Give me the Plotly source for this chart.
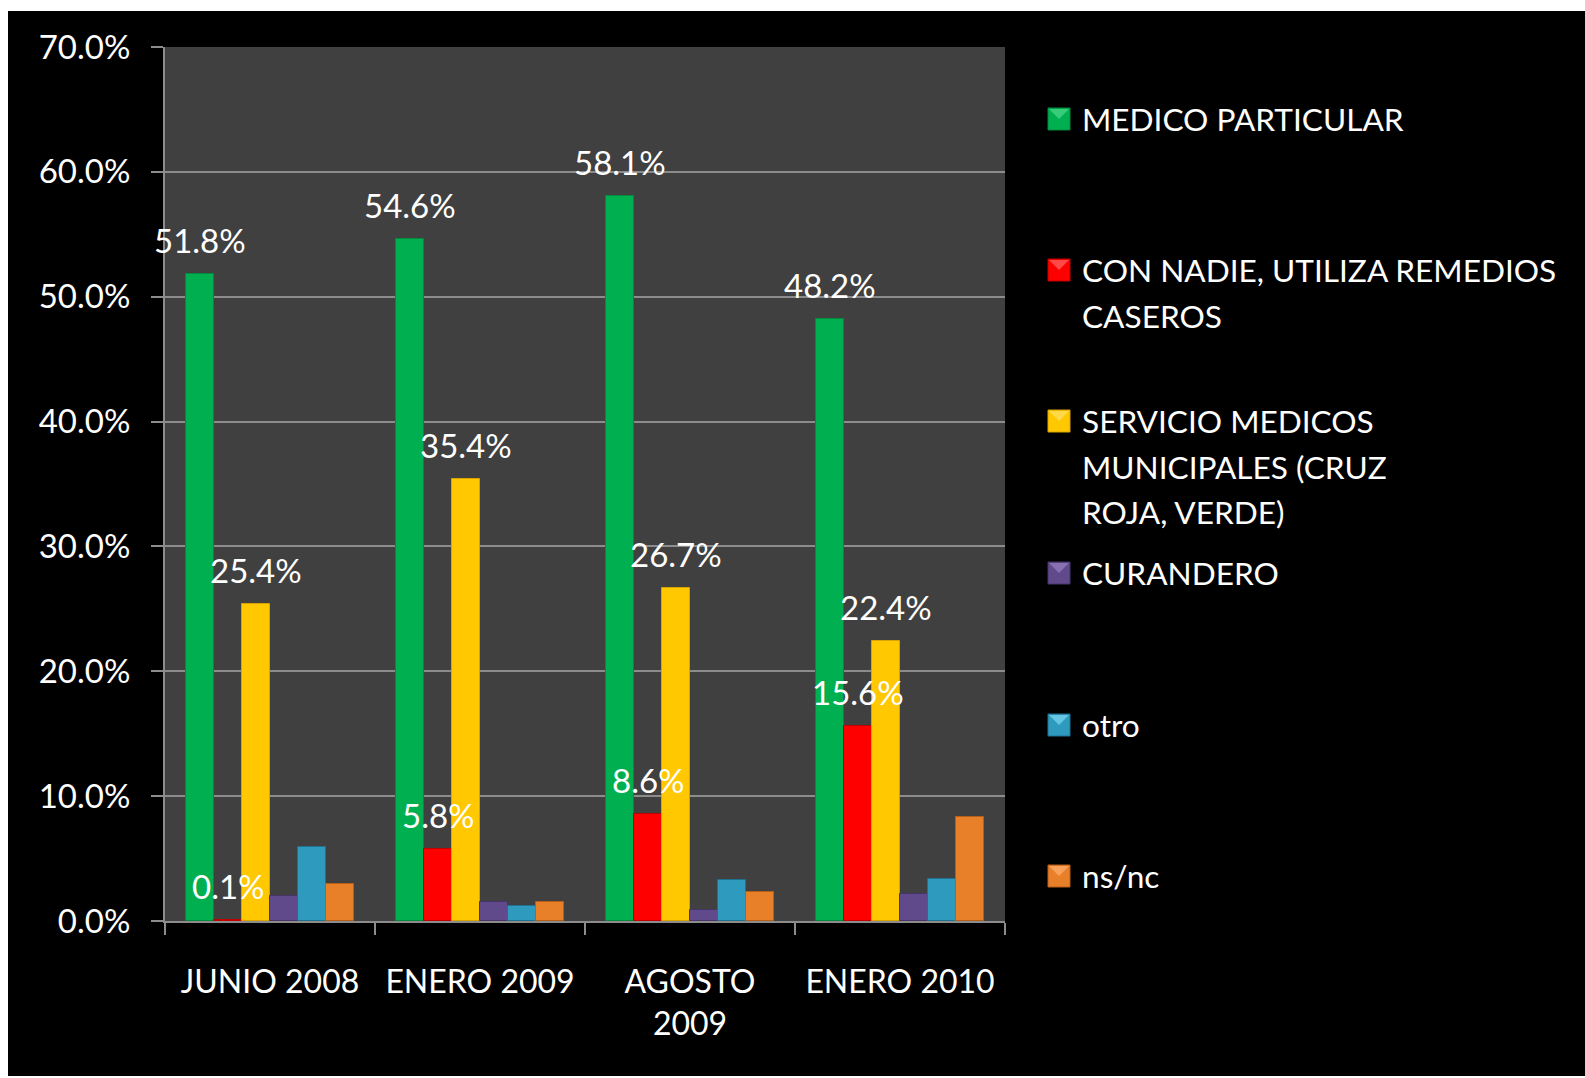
import plotly.graph_objects as go

# Survey periods (x categories)
periods = ["JUNIO 2008", "ENERO 2009", "AGOSTO<br>2009", "ENERO 2010"]

# Where people go when they get sick, % of answers per period
series_names = [
    "MEDICO PARTICULAR",
    "CON NADIE, UTILIZA REMEDIOS<br>CASEROS",
    "SERVICIO MEDICOS<br>MUNICIPALES (CRUZ<br>ROJA, VERDE)",
    "CURANDERO",
    "otro",
    "ns/nc",
]
medico_particular = [51.8, 54.6, 58.1, 48.2]
con_nadie = [0.1, 5.8, 8.6, 15.6]
servicio_municipal = [25.4, 35.4, 26.7, 22.4]
curandero = [2.0, 1.5, 0.9, 2.2]
otro = [5.9, 1.2, 3.3, 3.4]
ns_nc = [3.0, 1.5, 2.3, 8.3]

# Only these series carry value labels
labelled = [True, True, True, False, False, False]

y_ticks = [0, 10, 20, 30, 40, 50, 60, 70]

series_values = [medico_particular, con_nadie, servicio_municipal, curandero, otro, ns_nc]
colors = ["#00B050", "#FF0000", "#FFC800", "#604A8C", "#2E9BBE", "#E8802A"]
edges = ["#008a3e", "#c00000", "#d9a300", "#47346b", "#1f7190", "#b85f17"]
lights = ["#4fd98a", "#ff6666", "#ffe066", "#9a82c2", "#7fd8f2", "#ffb070"]

W, H = 1585, 1078
L, R, T, B = 165, 1005, 47, 921  # plot area in pixels

n_series = len(series_values)
group_width = 0.8
bar_w = group_width / n_series

FONT = "Lato, 'Open Sans', sans-serif"
NUM_SIZE = 33
TXT_SIZE = 31.6

fig = go.Figure()
annotations = []
for j, (name, vals) in enumerate(zip(series_names, series_values)):
    xs = [i + (j - (n_series - 1) / 2) * bar_w for i in range(len(periods))]
    fig.add_trace(go.Bar(
        x=xs, y=vals, width=bar_w, name=name.replace("<br>", " "),
        marker=dict(color=colors[j], line=dict(color=edges[j], width=1)),
        showlegend=False, hoverinfo="y",
    ))
    if labelled[j]:
        for x, v in zip(xs, vals):
            annotations.append(dict(
                x=x, y=v, xref="x", yref="y", text=f"{v:.1f}%",
                showarrow=False, yshift=34, yanchor="middle",
                font=dict(family=FONT, size=NUM_SIZE, color="white"),
            ))


def px(x, y):
    """pixel position -> paper coordinates of the plot area"""
    return (x - L) / (R - L), (B - y) / (B - T)


# Legend drawn by hand: bevelled square + text, one row every ~152 px
legend_rows = [119, 270, 421, 573, 725, 876]
line_step = 45.5
shapes = []
sq = 22
for j, (name, yc) in enumerate(zip(series_names, legend_rows)):
    x0, y0 = px(1048, yc - sq / 2)
    x1, y1 = px(1048 + sq, yc + sq / 2)
    shapes.append(dict(type="rect", xref="paper", yref="paper",
                       x0=x0, x1=x1, y0=y1, y1=y0,
                       fillcolor=colors[j], line=dict(color=edges[j], width=1)))
    # lighter bevel on the top face
    ax, ay = px(1048 + 1, yc - sq / 2 + 1)
    bx, by = px(1048 + sq - 1, yc - sq / 2 + 1)
    cx, cy = px(1048 + sq / 2, yc)
    shapes.append(dict(type="path", xref="paper", yref="paper",
                       path=f"M{ax},{ay} L{bx},{by} L{cx},{cy} Z",
                       fillcolor=lights[j], line=dict(width=0), opacity=0.7))
    for k, line in enumerate(name.split("<br>")):
        tx, ty = px(1080, yc + k * line_step)
        annotations.append(dict(
            x=tx, y=ty, xref="paper", yref="paper", text=line,
            showarrow=False, xanchor="left", yanchor="middle", align="left",
            font=dict(family=FONT, size=TXT_SIZE, color="white"),
        ))

# thin white page border on the top, left and bottom
for (xa, ya, xb, yb) in [(0, 0, W, 11), (0, 0, 8, H), (0, 1076, W, H)]:
    p0 = px(xa, ya)
    p1 = px(xb, yb)
    shapes.append(dict(type="rect", xref="paper", yref="paper",
                       x0=p0[0], x1=p1[0], y0=p1[1], y1=p0[1],
                       fillcolor="white", line=dict(width=0), layer="above"))

fig.update_layout(
    width=W, height=H,
    margin=dict(l=L, r=W - R, t=T, b=H - B, autoexpand=False),
    paper_bgcolor="black", plot_bgcolor="#404040",
    font=dict(family=FONT, size=TXT_SIZE, color="white"),
    showlegend=False,
    annotations=annotations, shapes=shapes,
    bargap=0,
)

fig.update_xaxes(
    range=[-0.5, len(periods) - 0.5],
    tickmode="array", tickvals=list(range(len(periods))), ticktext=periods,
    ticks="", showgrid=False, zeroline=False,
    showline=True, linecolor="#8c8c8c", linewidth=2,
    ticklabelstandoff=32,
    tickfont=dict(family=FONT, size=32, color="white"),
    minor=dict(tickmode="linear", tick0=-0.5, dtick=1, ticks="outside",
               ticklen=12, tickwidth=2, tickcolor="#8c8c8c", showgrid=False),
)

fig.update_yaxes(
    range=[0, 70], tickmode="array", tickvals=y_ticks,
    ticktext=[f"{v:.1f}%" for v in y_ticks],
    ticks="outside", ticklen=12, tickwidth=2, tickcolor="#8c8c8c",
    showline=True, linecolor="#8c8c8c", linewidth=2,
    showgrid=True, gridcolor="#8c8c8c", gridwidth=2, zeroline=False,
    ticklabelstandoff=14,
    tickfont=dict(family=FONT, size=NUM_SIZE, color="white"),
)

fig.write_html("out.html")
